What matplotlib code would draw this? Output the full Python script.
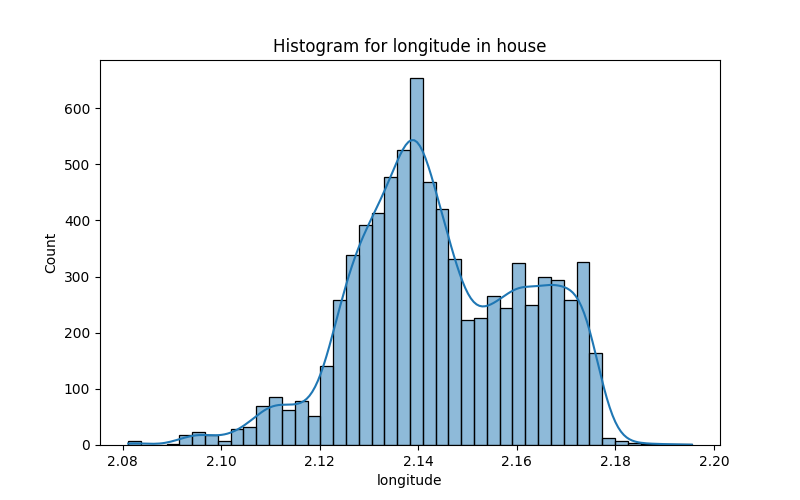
import numpy as np
import pandas as pd
import matplotlib
matplotlib.use('Agg')
import matplotlib.pyplot as plt
import seaborn as sns

# Histogram counts (44 bins)
lon_min = 2.0811
lon_max = 2.1955
counts = [8, 0, 0, 2, 18, 23, 18, 7, 29, 32,
          69, 85, 62, 79, 51, 141, 258, 338, 392, 414,
          478, 525, 653, 468, 420, 331, 222, 226, 265, 244,
          324, 250, 299, 294, 258, 326, 163, 12, 8, 3,
          2, 2, 1, 1]

edges = np.linspace(lon_min, lon_max, len(counts) + 1)
centers = (edges[:-1] + edges[1:]) / 2
weights = np.array(counts, dtype=float)
df = pd.DataFrame({'longitude': centers, 'n': weights})

# binned weights shrink the effective sample size, so scale the
# bandwidth back to what the raw points would give (scott's rule)
n_raw = weights.sum()
neff = n_raw ** 2 / (weights ** 2).sum()
bw_adjust = float((neff / n_raw) ** 0.2)

# seaborn builds the kde grid from the unweighted points, so work out
# the cut that makes the curve span exactly the outer bin edges
grid_bw = np.std(centers, ddof=1) * len(centers) ** (-0.2) * bw_adjust
cut = float((edges[1] - edges[0]) / 2 / grid_bw)

fig, ax = plt.subplots(figsize=(8, 5))
sns.histplot(data=df, x='longitude', weights='n', bins=list(edges), kde=True,
             kde_kws={'cut': cut, 'bw_adjust': bw_adjust}, ax=ax)
ax.set_title('Histogram for longitude in house')
ax.set_xlabel('longitude')
ax.set_ylabel('Count')
fig.savefig('out.png', dpi=100)
